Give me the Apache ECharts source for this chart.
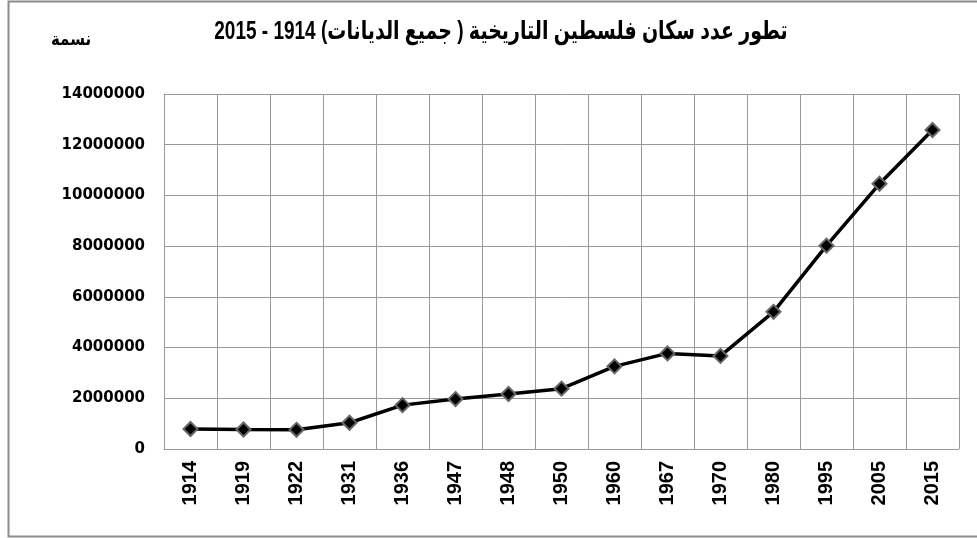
<!DOCTYPE html>
<html>
<head>
<meta charset="utf-8">
<script src="https://cdn.jsdelivr.net/npm/echarts@6/dist/echarts.min.js"></script>
<style>
html,body{margin:0;padding:0;background:#fff;}
#chart{width:977px;height:538px;}
</style>
</head>
<body>
<div id="chart"></div>
<script>
const titleText = '\u202Bتطور عدد سكان فلسطين التاريخية ( جميع الديانات) 1914 - 2015\u202C';
const yAxisName = 'نسمة';
const years = ['1914','1919','1922','1931','1936','1947','1948','1950','1960','1967','1970','1980','1995','2005','2015'];
const population = [790000, 770000, 757000, 1036000, 1730000, 1970000, 2170000, 2380000, 3260000, 3770000, 3670000, 5410000, 8020000, 10460000, 12580000];
const yTicks = [0, 2000000, 4000000, 6000000, 8000000, 10000000, 12000000, 14000000];

const chart = echarts.init(document.getElementById('chart'));
chart.setOption({
  animation: false,
  backgroundColor: '#fff',
  graphic: [{
    type: 'rect',
    shape: {x: 8.5, y: 1.5, width: 990, height: 535},
    style: {fill: 'none', stroke: '#8c8c8c', lineWidth: 2},
    silent: true
  }, {
    type: 'text',
    x: 71, y: 40, scaleY: 1.2, originX: 0, originY: 0,
    style: {text: yAxisName, font: 'bold 15px "DejaVu Sans", sans-serif', fill: '#000', align: 'center', verticalAlign: 'middle'}
  }, {
    type: 'text',
    x: 501, y: 32, scaleY: 1.35,
    style: {text: titleText, font: 'bold 19px "Liberation Sans", "DejaVu Sans", sans-serif', fill: '#000', align: 'center', verticalAlign: 'middle'}
  }],
  grid: {left: 164, right: 18, top: 94, bottom: 89},
  xAxis: {
    type: 'category',
    data: years,
    boundaryGap: true,
    axisLine: {lineStyle: {color: '#999', width: 1}},
    axisTick: {show: false},
    splitLine: {show: true, lineStyle: {color: '#999', width: 1}},
    axisLabel: {rotate: 90, margin: 12, fontFamily: '"Liberation Sans", Arial, sans-serif', fontWeight: 'bold', fontSize: 20, color: '#000', interval: 0}
  },
  yAxis: {
    type: 'value',
    min: yTicks[0], max: yTicks[yTicks.length - 1], interval: yTicks[1] - yTicks[0],
    axisLine: {show: true, lineStyle: {color: '#999', width: 1}},
    axisTick: {show: false},
    splitLine: {show: true, lineStyle: {color: '#999', width: 1}},
    axisLabel: {margin: 19, fontFamily: '"DejaVu Sans", sans-serif', fontWeight: 'bold', fontSize: 15, color: '#000',
      formatter: function (v) { return String(v); }}
  },
  series: [{
    type: 'line',
    data: population,
    symbol: 'diamond',
    symbolSize: 14,
    lineStyle: {color: '#000', width: 3.5},
    itemStyle: {color: '#000', borderColor: '#666', borderWidth: 2}
  }]
});
</script>
</body>
</html>
